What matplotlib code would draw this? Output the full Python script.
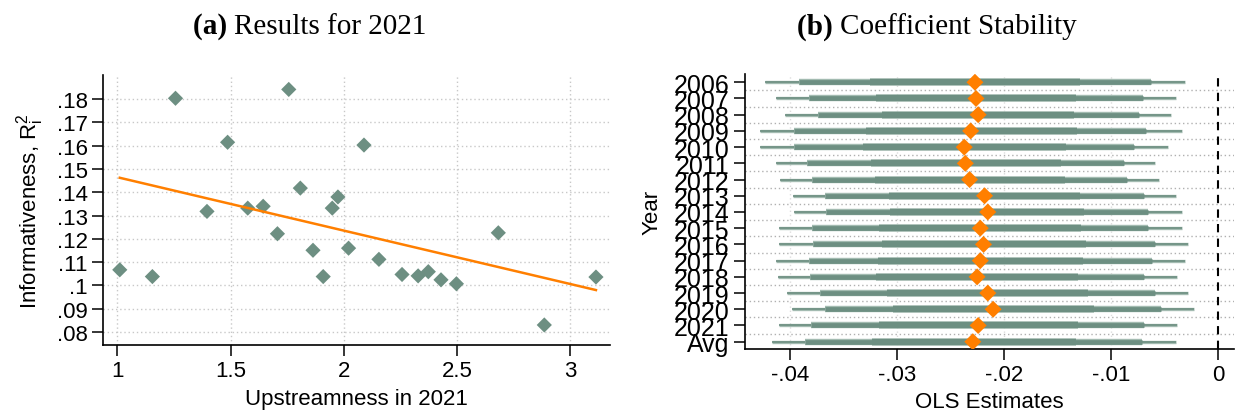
import numpy as np
import matplotlib
matplotlib.use('Agg')
import matplotlib.pyplot as plt

# panel (a): upstreamness vs informativeness, 2021
upstream = [1.011, 1.155, 1.257, 1.396, 1.487, 1.576, 1.644, 1.707, 1.757, 1.808,
            1.864, 1.909, 1.949, 1.974, 2.021, 2.089, 2.155, 2.257, 2.328, 2.373,
            2.429, 2.497, 2.682, 2.885, 3.113]
r2 = [0.1067, 0.1038, 0.1804, 0.1318, 0.1615, 0.1332, 0.1340, 0.1222, 0.1842, 0.1418,
      0.1151, 0.1038, 0.1332, 0.1380, 0.1160, 0.1603, 0.1112, 0.1047, 0.1041, 0.1059,
      0.1024, 0.1007, 0.1226, 0.0830, 0.1036]

# panel (b): OLS estimates by year with three interval bands
years = ['2006', '2007', '2008', '2009', '2010', '2011', '2012', '2013', '2014',
         '2015', '2016', '2017', '2018', '2019', '2020', '2021', 'Avg']
coef = [-0.0227, -0.0226, -0.0224, -0.0231, -0.0237, -0.0236, -0.0232, -0.0218, -0.0215,
        -0.0222, -0.0219, -0.0222, -0.0225, -0.0215, -0.0210, -0.0224, -0.0229]
outer_lo = [-0.0423, -0.0413, -0.0404, -0.0428, -0.0428, -0.0413, -0.0409, -0.0397, -0.0396,
            -0.0410, -0.0410, -0.0413, -0.0411, -0.0403, -0.0398, -0.0410, -0.0417]
outer_hi = [-0.0031, -0.0039, -0.0044, -0.0034, -0.0047, -0.0059, -0.0055, -0.0039, -0.0034,
            -0.0034, -0.0028, -0.0031, -0.0038, -0.0028, -0.0022, -0.0038, -0.0039]
mid_lo = [-0.0391, -0.0382, -0.0374, -0.0396, -0.0396, -0.0384, -0.0379, -0.0367, -0.0366,
          -0.0379, -0.0378, -0.0382, -0.0381, -0.0372, -0.0367, -0.0380, -0.0386]
mid_hi = [-0.0063, -0.0070, -0.0074, -0.0067, -0.0078, -0.0088, -0.0085, -0.0069, -0.0065,
          -0.0065, -0.0059, -0.0062, -0.0069, -0.0059, -0.0053, -0.0069, -0.0071]
inner_lo = [-0.0325, -0.0319, -0.0314, -0.0329, -0.0332, -0.0324, -0.0320, -0.0307, -0.0306,
            -0.0317, -0.0314, -0.0318, -0.0319, -0.0309, -0.0304, -0.0317, -0.0323]
inner_hi = [-0.0129, -0.0133, -0.0134, -0.0132, -0.0142, -0.0147, -0.0143, -0.0129, -0.0125,
            -0.0128, -0.0123, -0.0126, -0.0131, -0.0121, -0.0116, -0.0131, -0.0133]

plt.rcParams['font.family'] = ['Liberation Sans', 'DejaVu Sans']
plt.rcParams['mathtext.fontset'] = 'custom'
plt.rcParams['mathtext.rm'] = 'Liberation Sans'

green = '#6d8f82'
light = '#a3bbb1'
orange = '#ff7f00'
grid_c = '#c8c8c8'

fig = plt.figure(figsize=(12.36, 4.14), dpi=100)
W, H = 1236, 414

def box(l, t, r, b):
    return [l / W, 1 - b / H, (r - l) / W, (b - t) / H]

# ---- (a) ----
ax1 = fig.add_axes(box(103, 76, 610, 346))
xt = [1, 1.5, 2, 2.5, 3]
yt = np.arange(0.08, 0.1801, 0.01)
for v in xt:
    ax1.axvline(v, color=grid_c, lw=1, ls=(0, (1, 2)), zorder=0)
for v in yt:
    ax1.axhline(v, color=grid_c, lw=1, ls=(0, (1, 2)), zorder=0)
ax1.scatter(upstream, r2, marker='D', s=60, color=green, edgecolors='none', zorder=3)
b, a = np.polyfit(upstream, r2, 1)
xs = np.array([min(upstream), max(upstream)])
ax1.plot(xs, a + b * xs, color=orange, lw=1.8, zorder=4)
ax1.set_xlim(0.937, 3.175)
ax1.set_ylim(0.0744, 0.1904)
ax1.set_xticks(xt)
ax1.set_xticklabels(['1', '1.5', '2', '2.5', '3'])
ax1.set_yticks(yt)
ax1.set_yticklabels(['.08', '.09', '.1', '.11', '.12', '.13', '.14', '.15', '.16', '.17', '.18'])
ax1.set_xlabel('Upstreamness in 2021', fontsize=16, labelpad=5)
ax1.set_ylabel(r'Informativeness, R$_\mathregular{i}^\mathregular{2}$', fontsize=16, labelpad=8)
for s in ['top', 'right']:
    ax1.spines[s].set_visible(False)

# ---- (b) ----
ax2 = fig.add_axes(box(745, 75, 1234, 350))
pos = np.arange(len(years))
for v in [-0.04, -0.03, -0.02, -0.01]:
    ax2.axvline(v, color='#dddddd', lw=1, ls=(0, (1, 2)), zorder=0)
for p in pos[:-1]:
    ax2.axhline(p + 0.5, color='#b0b0b0', lw=1, ls=(0, (1, 2)), zorder=0)
ax2.axvline(0, color='black', lw=1.5, ls=(0, (4, 3)), zorder=1)
ax2.hlines(pos, outer_lo, outer_hi, color=light, lw=2.4, zorder=2)
ax2.hlines(pos, outer_lo, outer_hi, color=green, lw=1.2, zorder=2)
ax2.hlines(pos, mid_lo, mid_hi, color=light, lw=4.6, zorder=3)
ax2.hlines(pos, mid_lo, mid_hi, color=green, lw=3.4, zorder=3)
ax2.hlines(pos, inner_lo, inner_hi, color=light, lw=5.4, zorder=4)
ax2.hlines(pos, inner_lo, inner_hi, color=green, lw=4.4, zorder=4)
ax2.scatter(coef, pos, marker='D', s=75, color=orange, edgecolors='none', zorder=5)
ax2.set_xlim(-0.04418, 0.0015)
ax2.set_ylim(16.45, -0.51)
ax2.set_yticks(pos)
ax2.set_yticklabels(years)
ax2.set_xticks([-0.04, -0.03, -0.02, -0.01, 0])
ax2.set_xticklabels(['-.04', '-.03', '-.02', '-.01', '0'])
ax2.set_xlabel('OLS Estimates', fontsize=16, labelpad=4)
ax2.set_ylabel('Year', fontsize=16, labelpad=8)
for s in ['top', 'right']:
    ax2.spines[s].set_visible(False)

for ax in (ax1, ax2):
    ax.tick_params(direction='out', length=8, width=1.1, labelsize=16, pad=3)
    for s in ['left', 'bottom']:
        ax.spines[s].set_linewidth(1.2)
ax2.tick_params(axis='y', labelsize=18, pad=3)

# panel titles: bold letter + serif text
def title(x, bold, rest):
    fig.text(x / W, 1 - 27 / H, bold + ' ', family='Liberation Serif', fontweight='bold',
             fontsize=21, ha='right', va='center')
    fig.text(x / W, 1 - 27 / H, rest, family='Liberation Serif', fontsize=21, ha='left', va='center')

title(234, '(a)', 'Results for 2021')
title(840, '(b)', 'Coefficient Stability')

fig.savefig('out.png', dpi=100)
